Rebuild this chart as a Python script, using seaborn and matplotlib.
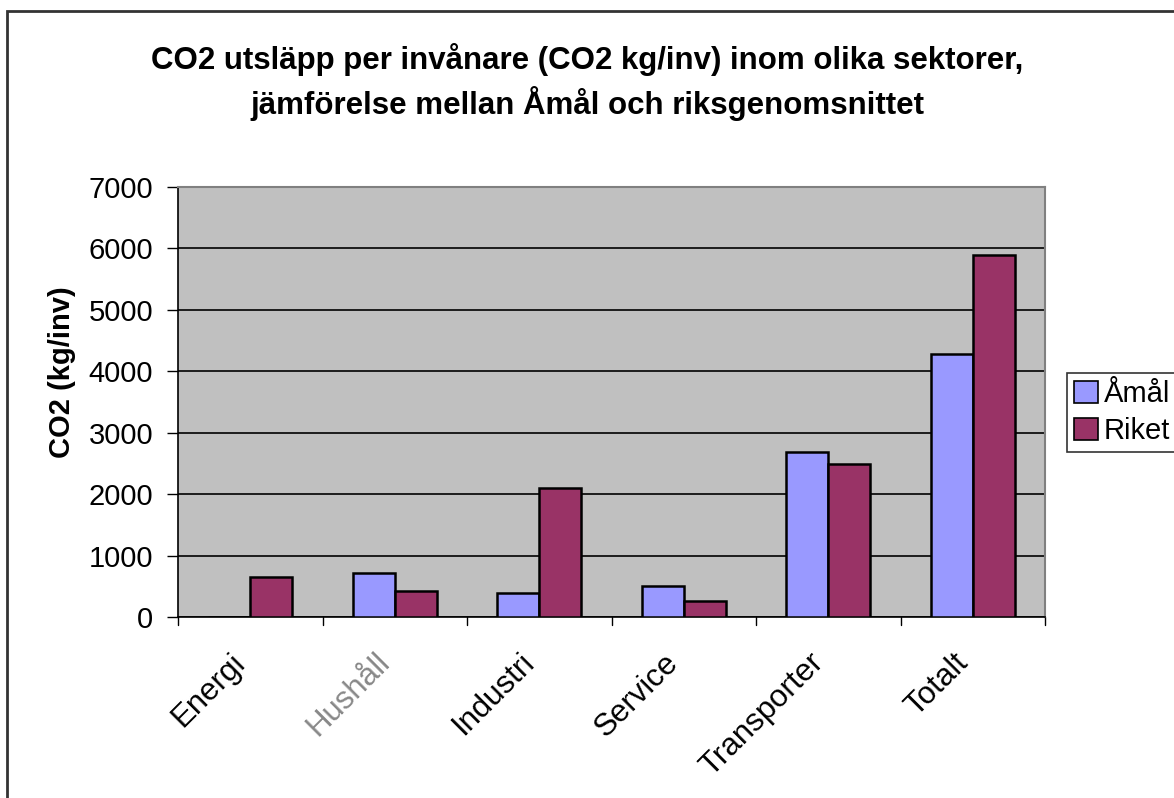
import matplotlib
matplotlib.use("Agg")
import matplotlib.pyplot as plt
import matplotlib.transforms as mtransforms
import seaborn as sns
import pandas as pd
from matplotlib.patches import Rectangle, Patch

categories = ["Energi", "Hushåll", "Industri", "Service", "Transporter", "Totalt"]
amal = [0, 710, 390, 510, 2680, 4280]
riket = [650, 420, 2095, 255, 2490, 5900]
series = ["Åmål", "Riket"]
yticks = [0, 1000, 2000, 3000, 4000, 5000, 6000, 7000]

df = pd.DataFrame({
    "Sektor": categories * 2,
    "Värde": amal + riket,
    "Serie": [series[0]] * len(categories) + [series[1]] * len(categories),
})

sns.set_theme(style="white")
plt.rcParams["font.family"] = ["Liberation Sans", "DejaVu Sans"]
plt.rcParams["text.color"] = "black"
plt.rcParams["axes.labelcolor"] = "black"
plt.rcParams["xtick.color"] = "black"
plt.rcParams["ytick.color"] = "black"

colors = {"Åmål": "#9999FF", "Riket": "#993366"}

fig = plt.figure(figsize=(11.74, 7.98), dpi=100)
ax = fig.add_axes([178 / 1174, 1 - 617 / 798, (1045 - 178) / 1174, (617 - 187) / 798])
ax.set_facecolor("#C0C0C0")

sns.barplot(data=df, x="Sektor", y="Värde", hue="Serie", palette=colors,
            width=0.58, edgecolor="black", linewidth=1.8, saturation=1,
            ax=ax, legend=False, zorder=3)

ax.set_ylim(0, 7000)
ax.set_xlim(-0.5, len(categories) - 0.5)
ax.set_yticks(yticks)
ax.set_yticklabels([str(t) for t in yticks], fontsize=21)
ax.yaxis.grid(True, color="black", linewidth=1.2, zorder=0)
ax.set_axisbelow(True)
ax.tick_params(axis="y", length=8, width=1, color="black", direction="out", left=True, pad=10)
ax.tick_params(axis="x", length=0, pad=22)
ax.set_xticks(range(len(categories)))
ax.set_xticklabels(categories, fontsize=22.5, rotation=45, ha="right", rotation_mode="anchor")
shift = mtransforms.ScaledTranslation(-20 / 100, 0, fig.dpi_scale_trans)
for lbl in ax.get_xticklabels():
    lbl.set_transform(lbl.get_transform() + shift)
    if lbl.get_text() == "Hushåll":
        lbl.set_color("#888888")
        lbl.set_fontweight("light")
for b in [i + 0.5 for i in range(-1, len(categories))]:
    ax.plot([b, b], [0, -0.018], transform=ax.get_xaxis_transform(), color="black",
            linewidth=1, clip_on=False)

ax.set_xlabel("")
ax.set_ylabel("CO2 (kg/inv)", fontsize=21, fontweight="bold")
ax.yaxis.set_label_coords(-102 / 867, (617 - 372) / 430)

for side in ["top", "right"]:
    ax.spines[side].set_color("#808080")
    ax.spines[side].set_linewidth(1.5)
ax.spines["left"].set_color("black")
ax.spines["bottom"].set_color("black")
ax.spines["left"].set_linewidth(1.2)
ax.spines["bottom"].set_linewidth(1.2)

fig.text(0.5, 1 - 60 / 798, "CO2 utsläpp per invånare (CO2 kg/inv) inom olika sektorer,",
         ha="center", va="center", fontsize=22.5, fontweight="bold")
fig.text(0.5, 1 - 104 / 798, "jämförelse mellan Åmål och riksgenomsnittet",
         ha="center", va="center", fontsize=22.5, fontweight="bold")

handles = [Patch(facecolor=colors[s], edgecolor="black", linewidth=1.2, label=s) for s in series]
leg = fig.legend(handles=handles, loc="upper left",
                 bbox_to_anchor=(1067 / 1174, 1 - 373 / 798),
                 fontsize=21, frameon=True, fancybox=False,
                 handlelength=0.8, handleheight=0.8, handletextpad=0.2,
                 borderpad=0.25, labelspacing=0.3, borderaxespad=0)
leg.get_frame().set_edgecolor("black")
leg.get_frame().set_linewidth(1.2)

fig.patches.append(Rectangle((7 / 1174, -0.1), 1.2, (1 - 10.5 / 798) + 0.1,
                             transform=fig.transFigure, fill=False,
                             edgecolor="#333333", linewidth=2))

fig.savefig("out.png", dpi=100)
